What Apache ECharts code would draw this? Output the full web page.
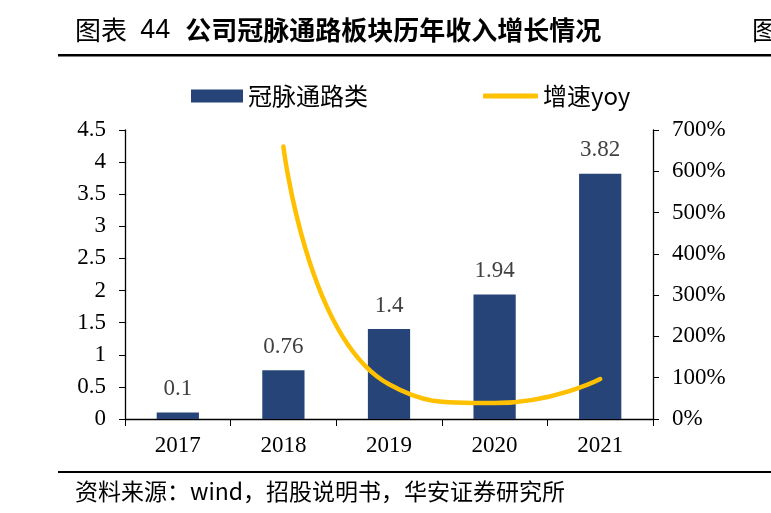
<!DOCTYPE html>
<html><head><meta charset="utf-8">
<script src="https://cdn.jsdelivr.net/npm/echarts@6/dist/echarts.min.js"></script>
<style>html,body{margin:0;padding:0;background:#fff}#c{width:771px;height:513px}</style>
</head><body><div id="c"></div>
<script>
const categories = ['2017','2018','2019','2020','2021'];
const revenue = [0.1, 0.76, 1.4, 1.94, 3.82];
const growth = [null, 660, 84, 38.6, 96.9];
const leftTicks = {min:0, max:4.5, interval:0.5};
const rightTicks = {min:0, max:700, interval:100};

const chart = echarts.init(document.getElementById('c'));
const serif = '"Liberation Serif", "Noto Sans CJK SC", serif';
const cjk = '"Noto Sans CJK SC", sans-serif';
chart.setOption({
  animation:false,
  graphic:[
    {type:'text', left:75, top:17, style:{
      text:'{a|图表 }{b| 44  }{c|公司冠脉通路板块历年收入增长情况}',
      rich:{
        a:{fontFamily:cjk, fontSize:26, fill:'#000'},
        b:{fontFamily:'"Liberation Sans Narrow","Liberation Sans",sans-serif', fontSize:27, fill:'#000'},
        c:{fontFamily:cjk, fontSize:26, fontWeight:'bold', fill:'#000'}
      }}},
    {type:'text', left:752, top:17, style:{text:'图', fontFamily:cjk, fontSize:26, fill:'#000'}},
    {type:'rect', shape:{x:58, y:54, width:720, height:2.5}, style:{fill:'#000'}},
    {type:'rect', shape:{x:58, y:471, width:720, height:2}, style:{fill:'#000'}},
    {type:'text', left:75, top:480, style:{text:'资料来源：wind，招股说明书，华安证券研究所', fontFamily:cjk, fontSize:23, fill:'#000'}}
  ],
  legend:[
    {top:79, left:186, itemWidth:52, itemHeight:13, itemGap:10,
     textStyle:{fontFamily:cjk, fontSize:24, color:'#000'},
     data:[{name:'冠脉通路类', icon:'rect'}]},
    {top:79, left:478, itemWidth:55, itemHeight:5, itemGap:8,
     textStyle:{fontFamily:cjk, fontSize:24, color:'#000'},
     data:[{name:'增速yoy', icon:'roundRect', itemStyle:{color:'#FFC000'}}]}
  ],
  grid:{left:125, right:118, top:130, bottom:94},
  xAxis:{
    type:'category', data:categories,
    axisLine:{lineStyle:{color:'#000', width:1.3}},
    axisTick:{show:true, length:7, lineStyle:{color:'#000'}},
    axisLabel:{fontFamily:serif, fontSize:23, color:'#000', margin:15}
  },
  yAxis:[
    {type:'value', min:leftTicks.min, max:leftTicks.max, interval:leftTicks.interval,
     axisLine:{show:true, lineStyle:{color:'#000', width:1.3}},
     axisTick:{show:true, length:6, lineStyle:{color:'#000'}},
     splitLine:{show:false},
     axisLabel:{fontFamily:serif, fontSize:23, color:'#000', margin:19}},
    {type:'value', min:rightTicks.min, max:rightTicks.max, interval:rightTicks.interval,
     axisLine:{show:true, lineStyle:{color:'#000', width:1.3}},
     axisTick:{show:true, length:6, lineStyle:{color:'#000'}},
     splitLine:{show:false},
     axisLabel:{fontFamily:serif, fontSize:23, color:'#000', margin:19, formatter:'{value}%'}}
  ],
  series:[
    {name:'冠脉通路类', type:'bar', data:revenue, barWidth:'40%',
     itemStyle:{color:'#264478'},
     label:{show:true, position:'top', distance:12, fontFamily:serif, fontSize:23, color:'#404040'}},
    {name:'增速yoy', type:'line', yAxisIndex:1, data:growth, smooth:0.55,
     symbol:'none', lineStyle:{color:'#FFC000', width:4.5, cap:'round'},
     itemStyle:{color:'#FFC000'}}
  ]
});
</script></body></html>
